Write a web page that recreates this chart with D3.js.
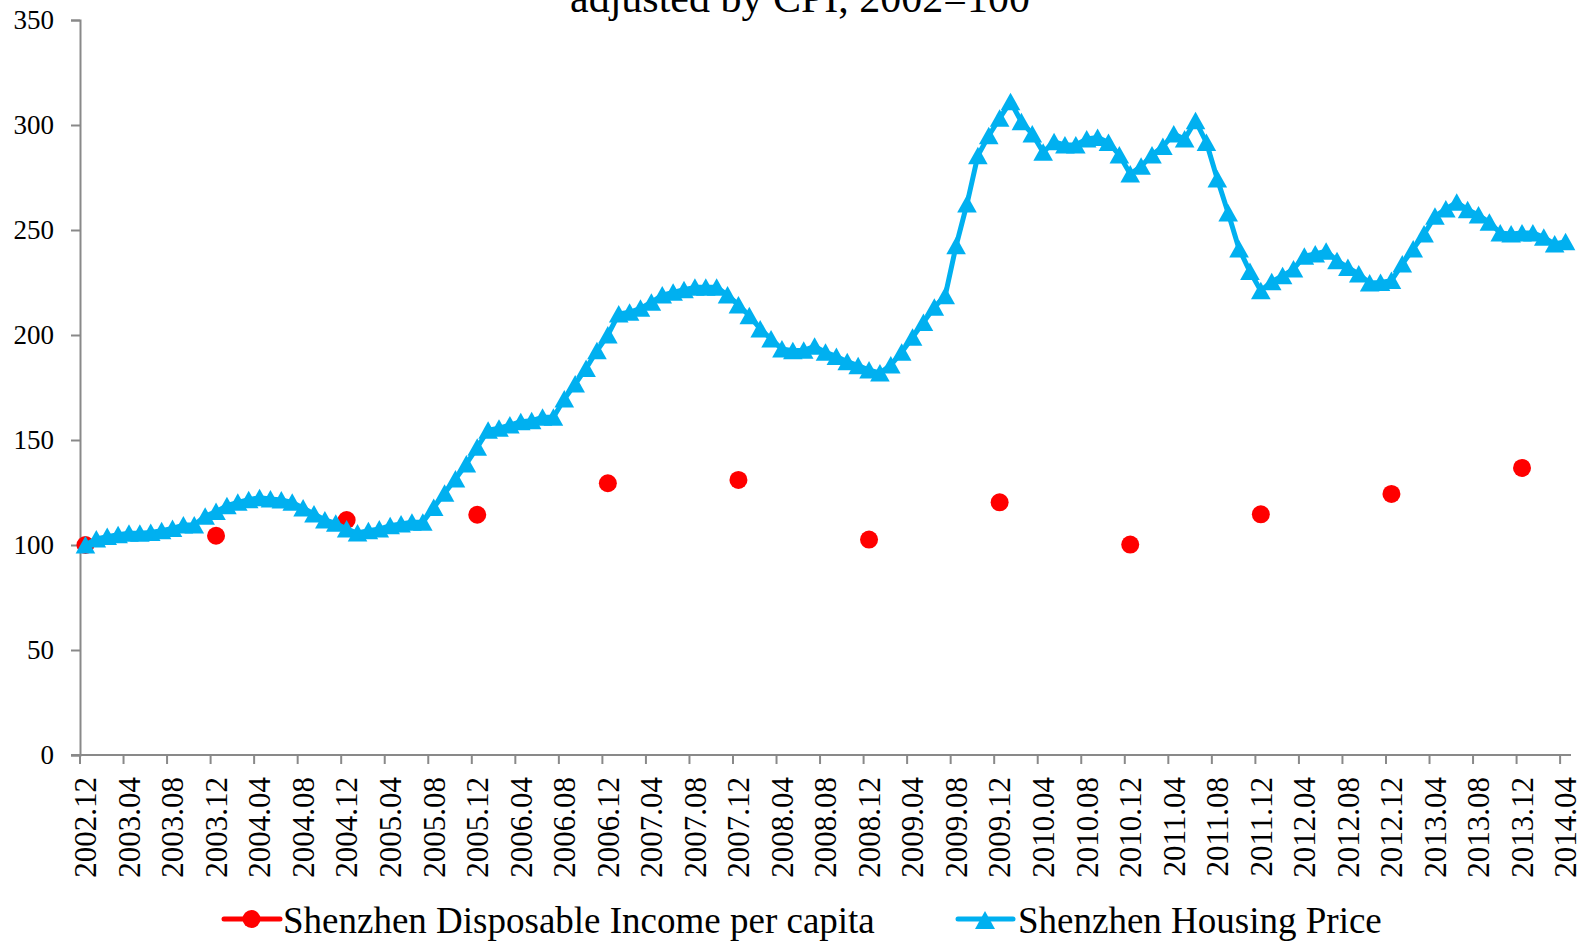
<!DOCTYPE html>
<html>
<head>
<meta charset="utf-8">
<script src="https://cdn.jsdelivr.net/npm/d3@7"></script>
<style>
  html, body { margin: 0; padding: 0; background: #fff; }
  svg { display: block; }
  text { font-family: "Liberation Serif", "Times New Roman", serif; fill: #000; }
</style>
</head>
<body>
<svg id="chart" width="1584" height="944"></svg>
<script>
// ---------- DATA ----------
const titleText = "adjusted by CPI, 2002=100";
const startMonth = new Date(2002, 11, 1);   // 2002.12
const endMonth = new Date(2014, 3, 1);      // 2014.04
const fmtMonth = d3.timeFormat("%Y.%m");
const months = d3.timeMonth.range(startMonth, d3.timeMonth.offset(endMonth, 1)).map(fmtMonth);

const housingPrice = [
  100.0, 102.9, 104.0, 104.9, 105.6, 105.6, 106.0, 106.8, 107.9, 109.5,
  109.5, 113.7, 115.9, 118.7, 120.3, 121.6, 122.5, 121.9, 121.4, 120.3,
  117.6, 114.8, 111.9, 110.3, 107.6, 105.7, 106.8, 107.6, 109.2, 110.0,
  110.8, 110.8, 117.9, 124.7, 131.4, 138.6, 146.5, 154.7, 155.6, 157.1,
  158.7, 159.2, 160.8, 160.8, 169.5, 176.7, 184.1, 192.5, 200.0, 210.0,
  210.8, 212.7, 215.6, 219.0, 220.3, 221.6, 222.7, 222.7, 222.7, 219.0,
  214.3, 209.2, 202.9, 198.1, 193.3, 192.5, 192.7, 194.6, 191.8, 189.8,
  187.3, 185.4, 183.3, 181.9, 185.7, 191.8, 198.9, 206.0, 213.2, 218.7,
  242.5, 262.4, 285.4, 294.9, 303.2, 311.1, 301.6, 295.7, 287.0, 292.0,
  290.5, 290.5, 293.3, 294.1, 291.7, 285.7, 276.7, 280.3, 285.7, 289.8,
  295.7, 293.3, 302.0, 291.7, 274.3, 258.1, 241.0, 230.2, 221.1, 225.4,
  228.2, 231.4, 237.5, 238.6, 239.9, 235.4, 232.2, 229.0, 224.8, 225.0,
  225.9, 233.8, 241.0, 248.1, 256.5, 260.0, 263.2, 259.7, 257.1, 253.7,
  248.6, 248.1, 248.6, 248.6, 246.5, 243.3, 244.4
];

const incomeMonths = ["2002.12","2003.12","2004.12","2005.12","2006.12","2007.12",
                      "2008.12","2009.12","2010.12","2011.12","2012.12","2013.12"];
const incomeValues = [100.0, 104.4, 111.9, 114.4, 129.4, 131.0,
                      102.6, 120.3, 100.2, 114.6, 124.3, 136.7];

const yTicks = [0, 50, 100, 150, 200, 250, 300, 350];
const xTickLabels = months.filter((m, i) => i % 4 === 0);

const seriesNames = ["Shenzhen Disposable Income per capita", "Shenzhen Housing Price"];
const colors = { income: "#FF0000", housing: "#00B0F0", axis: "#898989" };

// ---------- LAYOUT ----------
const svg = d3.select("#chart");
const plot = { left: 80, right: 1571, top: 20, bottom: 755 };

const x = d3.scaleBand().domain(months).range([plot.left, plot.right]).padding(0);
const y = d3.scaleLinear().domain([0, 350]).range([plot.bottom, plot.top]);
const cx = m => x(m) + x.bandwidth() / 2;

// title (its upper part lies above the picture, as in the reference)
svg.append("text")
  .attr("x", 800).attr("y", 12)
  .attr("text-anchor", "middle")
  .style("font-size", "42px")
  .text(titleText);

// ---------- Y AXIS ----------
const yAxis = d3.axisLeft(y).tickValues(yTicks).tickSize(9).tickPadding(17).tickFormat(d3.format("d"));
const gy = svg.append("g").attr("transform", `translate(${plot.left},0)`).call(yAxis);
gy.select(".domain").attr("stroke", colors.axis).attr("stroke-width", 2);
gy.selectAll(".tick line").attr("stroke", colors.axis).attr("stroke-width", 2);
gy.selectAll(".tick text").style("font-size", "27px").attr("fill", "#000")
  .style("font-family", '"Liberation Serif", serif');

// ---------- X AXIS ----------
const gx = svg.append("g").attr("transform", `translate(0,${plot.bottom})`);
gx.append("line")
  .attr("x1", plot.left - 9).attr("x2", plot.right)
  .attr("y1", 0).attr("y2", 0)
  .attr("stroke", colors.axis).attr("stroke-width", 2);
gx.selectAll("line.xtick").data(xTickLabels).enter().append("line")
  .attr("class", "xtick")
  .attr("x1", d => x(d)).attr("x2", d => x(d))
  .attr("y1", 0).attr("y2", 9)
  .attr("stroke", colors.axis).attr("stroke-width", 2);
gx.selectAll("text.xlab").data(xTickLabels).enter().append("text")
  .attr("class", "xlab")
  .attr("transform", d => `translate(${cx(d)},22) rotate(-90)`)
  .attr("text-anchor", "end")
  .attr("dy", "0.35em")
  .style("font-size", "31px")
  .text(d => d);

// ---------- SERIES ----------
// Income: markers only (sparse data)
svg.append("g").selectAll("circle").data(incomeMonths).enter().append("circle")
  .attr("cx", d => cx(d))
  .attr("cy", (d, i) => y(incomeValues[i]))
  .attr("r", 9)
  .attr("fill", colors.income);

// Housing price line
const line = d3.line().x((d, i) => cx(months[i])).y(d => y(d));
svg.append("path").datum(housingPrice)
  .attr("d", line)
  .attr("fill", "none")
  .attr("stroke", colors.housing)
  .attr("stroke-width", 5)
  .attr("stroke-linejoin", "round");

const triPath = "M0,-9L9.8,8.5L-9.8,8.5Z";
svg.append("g").selectAll("path").data(housingPrice).enter().append("path")
  .attr("d", triPath)
  .attr("transform", (d, i) => `translate(${cx(months[i])},${y(d)})`)
  .attr("fill", colors.housing);

// ---------- LEGEND ----------
const leg = svg.append("g");
// income
leg.append("line").attr("x1", 224).attr("x2", 280).attr("y1", 919).attr("y2", 919)
  .attr("stroke", colors.income).attr("stroke-width", 5).attr("stroke-linecap", "round");
leg.append("circle").attr("cx", 251.5).attr("cy", 919).attr("r", 9).attr("fill", colors.income);
leg.append("text").attr("x", 283).attr("y", 933).style("font-size", "37px").text(seriesNames[0]);
// housing
leg.append("line").attr("x1", 958).attr("x2", 1013).attr("y1", 919).attr("y2", 919)
  .attr("stroke", colors.housing).attr("stroke-width", 5).attr("stroke-linecap", "round");
leg.append("path").attr("d", "M0,-9L10,9L-10,9Z").attr("transform", "translate(985,920)").attr("fill", colors.housing);
leg.append("text").attr("x", 1018).attr("y", 933).style("font-size", "37px").text(seriesNames[1]);
</script>
</body>
</html>
